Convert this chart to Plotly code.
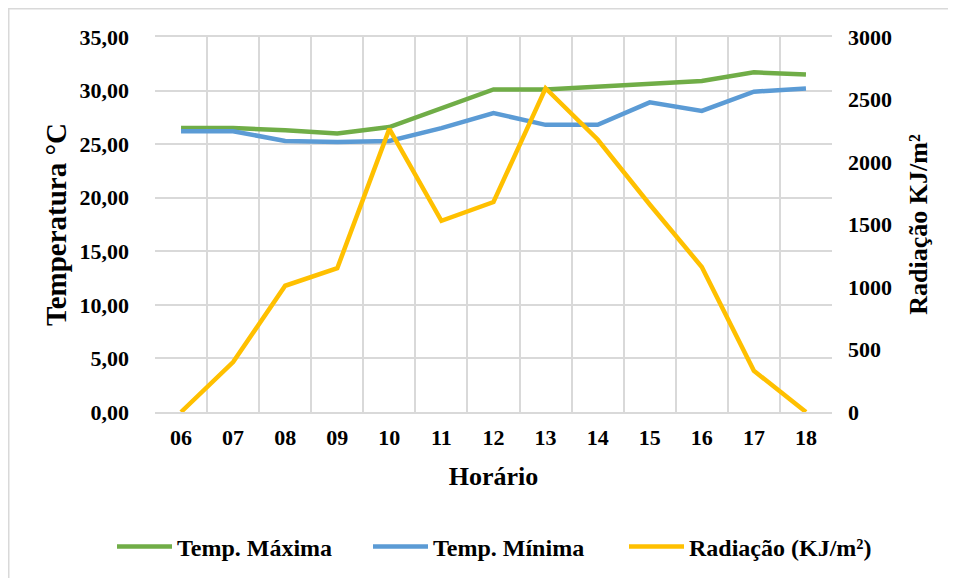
import plotly.graph_objects as go

horario = ["06", "07", "08", "09", "10", "11", "12", "13", "14", "15", "16", "17", "18"]
temp_max = [26.5, 26.5, 26.3, 26.0, 26.6, 28.3, 30.1, 30.1, 30.4, 30.7, 30.9, 31.7, 31.5]
temp_min = [26.2, 26.2, 25.3, 25.2, 25.3, 26.5, 27.9, 26.8, 26.8, 28.9, 28.1, 29.9, 30.2]
radiacao = [0, 400, 1010, 1150, 2265, 1530, 1680, 2590, 2180, 1660, 1160, 330, 0]

FONT = "Liberation Serif, Times New Roman, serif"
GRID = "#d9d9d9"

fig = go.Figure()
fig.add_trace(go.Scatter(x=horario, y=temp_max, name="Temp. Máxima", mode="lines",
                         line=dict(color="#70AD47", width=4.5)))
fig.add_trace(go.Scatter(x=horario, y=temp_min, name="Temp. Mínima", mode="lines",
                         line=dict(color="#5B9BD5", width=4.5)))
fig.add_trace(go.Scatter(x=horario, y=radiacao, name="Radiação (KJ/m²)", mode="lines",
                         line=dict(color="#FFC000", width=4.5), yaxis="y2"))

# the page adds an 8px body margin, so figure coords = screen coords - 8
OFF = 8
W, H = 956, 578
L, T = 155 - OFF, 37 - OFF
pw, ph = 677, 375
R = W - L - pw
B = H - T - ph

def px(x):
    return (x - OFF - L) / pw

def py(y):
    return (H - B - (y - OFF)) / ph

fig.update_layout(
    width=W, height=H,
    margin=dict(l=L, r=R, t=T, b=B, autoexpand=False),
    paper_bgcolor="white", plot_bgcolor="white",
    separators=",.",
    font=dict(family=FONT, size=22, color="black"),
    showlegend=True,
    legend=dict(orientation="h", x=px(112), xanchor="left", y=py(547), yanchor="middle",
                font=dict(family=FONT, size=24, color="black", weight="bold"),
                traceorder="normal", itemwidth=55, entrywidth=186),
    xaxis=dict(
        type="category", tickson="boundaries", showgrid=True, gridcolor=GRID, gridwidth=1.5,
        showline=True, linecolor=GRID, linewidth=1.5, mirror=True,
        ticks="", ticklabelstandoff=5, automargin=False,
        tickfont=dict(family=FONT, size=22, color="black", weight="bold"),
        title=dict(text="Horário", font=dict(family=FONT, size=26, color="black", weight="bold"),
                   standoff=18),
        range=[-0.5, 12.5],
    ),
    yaxis=dict(
        range=[0, 35], dtick=5, tick0=0, tickformat=".2f",
        showgrid=True, gridcolor=GRID, gridwidth=1.5, zeroline=False,
        showline=False, ticks="", ticklabelstandoff=25, automargin=False,
        tickfont=dict(family=FONT, size=22, color="black", weight="bold"),
        title=dict(text="Temperatura °C", font=dict(family=FONT, size=29, color="black", weight="bold"),
                   standoff=4),
    ),
    yaxis2=dict(
        range=[0, 3000], dtick=500, tick0=0, tickformat="d",
        overlaying="y", side="right", showgrid=False, zeroline=False, showline=False,
        ticks="", ticklabelstandoff=15, automargin=False,
        tickfont=dict(family=FONT, size=22, color="black", weight="bold"),
        title=dict(text="Radiação KJ/m²", font=dict(family=FONT, size=26, color="black", weight="bold"),
                   standoff=17),
    ),
    shapes=[
        dict(type="line", xref="paper", yref="paper", x0=px(8.75), x1=px(8.75), y0=py(8), y1=py(590),
             line=dict(color=GRID, width=1.5)),
        dict(type="line", xref="paper", yref="paper", x0=px(8), x1=px(970), y0=py(8.75), y1=py(8.75),
             line=dict(color=GRID, width=1.5)),
    ],
)

fig.write_html("out.html")
